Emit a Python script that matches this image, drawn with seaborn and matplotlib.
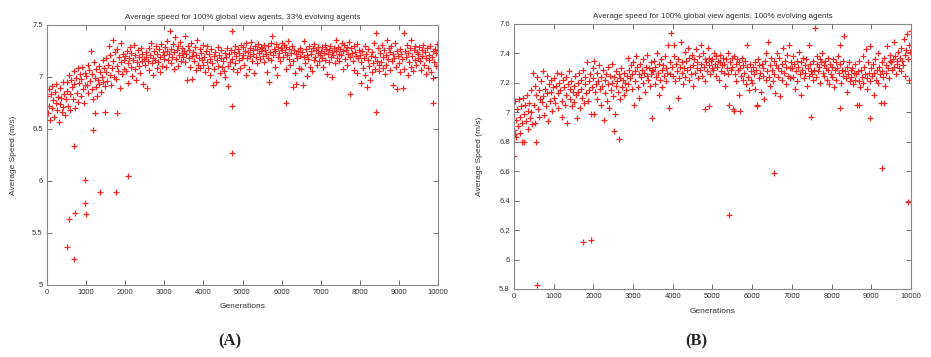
import numpy as np
import pandas as pd
import matplotlib
matplotlib.use("Agg")
import matplotlib.pyplot as plt
import seaborn as sns

# ---------------- data ----------------
generations = list(range(0, 10001, 20))

speed_a = [
    6.82,6.65,6.88,6.72,6.59,6.84,6.91,6.70,6.78,6.62,6.86,6.75,6.93,6.68,6.81,6.57,6.89,6.74,6.80,6.66,6.95,6.71,6.84,6.63,6.79,
    6.87,6.95,6.72,7.02,6.84,6.68,6.97,6.90,6.79,7.06,6.93,6.70,6.99,6.85,7.09,6.76,6.94,7.03,6.82,6.98,7.10,6.88,6.75,7.04,6.92,
    7.01,6.92,7.12,6.85,7.07,6.96,7.25,6.88,7.03,6.79,7.14,6.99,6.90,7.08,6.82,6.97,7.11,6.93,7.05,6.86,7.00,7.16,6.95,7.09,6.91,
    7.05,7.18,6.96,7.12,7.30,7.02,7.21,6.92,7.09,7.36,7.15,7.00,7.24,6.98,7.11,7.27,7.06,7.19,6.89,7.14,7.33,7.03,7.22,7.08,7.16,
    7.20,7.06,7.25,7.13,6.94,7.18,7.29,7.10,7.23,7.01,7.16,7.31,7.08,7.21,6.97,7.14,7.26,7.11,7.19,7.04,7.28,7.15,7.22,6.93,7.17,
    7.12,7.24,7.19,6.89,7.15,7.28,7.07,7.21,7.33,7.13,7.18,7.02,7.25,7.16,7.30,7.09,7.22,7.14,7.27,7.05,7.19,7.32,7.11,7.24,7.17,
    7.21,7.29,7.10,7.25,7.35,7.16,7.22,7.44,7.13,7.27,7.19,7.32,7.08,7.24,7.38,7.17,7.26,7.11,7.30,7.21,7.34,7.15,7.23,7.28,7.19,
    7.25,7.39,7.14,7.22,6.97,7.30,7.18,7.26,7.10,7.33,7.20,6.98,7.24,7.15,7.29,7.07,7.21,7.36,7.12,7.18,7.27,7.09,7.23,7.16,7.31,
    7.12,7.19,7.05,7.25,7.14,7.30,7.09,7.22,7.17,7.02,7.27,7.13,6.92,7.20,7.08,7.24,6.95,7.16,7.29,7.11,7.21,7.04,7.18,7.26,7.10,
    7.15,7.06,7.23,7.00,7.19,7.28,7.11,6.91,7.22,7.14,7.26,7.44,7.17,7.08,7.24,7.30,7.13,7.20,7.05,7.27,7.16,7.23,7.09,7.31,7.18,
    7.21,7.29,7.12,7.25,7.02,7.33,7.18,7.24,7.08,7.28,7.20,7.34,7.15,7.26,7.22,7.04,7.30,7.19,7.27,7.13,7.32,7.23,7.17,7.29,7.25,
    7.28,7.20,7.31,7.14,7.26,7.22,7.05,7.30,7.18,6.95,7.24,7.33,7.16,7.39,7.21,7.27,7.10,7.25,7.32,7.02,7.19,7.29,7.23,7.15,7.28,
    7.33,7.26,7.19,7.31,7.24,7.08,7.29,7.21,7.35,7.17,7.27,7.12,7.23,7.30,6.90,7.15,7.26,7.04,7.22,6.93,7.18,7.25,7.09,7.28,7.20,
    7.08,7.24,6.92,7.19,7.35,7.13,7.27,7.01,7.21,7.17,7.30,7.10,7.25,7.22,7.06,7.28,7.16,7.32,7.19,7.26,7.12,7.23,7.29,7.15,7.21,
    7.25,7.18,7.29,7.10,7.23,7.31,7.16,7.27,7.03,7.22,7.26,7.14,7.30,7.19,7.24,7.00,7.21,7.28,7.13,7.25,7.36,7.18,7.29,7.22,7.15,
    7.27,7.21,7.33,7.08,7.25,7.31,7.17,7.26,7.12,7.29,7.22,7.34,7.19,6.84,7.28,7.23,7.15,7.30,7.07,7.24,7.20,7.32,7.04,7.18,7.26,
    7.21,7.14,6.94,7.25,7.09,7.18,7.30,7.02,7.22,6.90,7.16,7.27,7.11,6.97,7.20,7.05,7.24,7.13,7.33,7.08,7.19,7.42,7.15,7.28,7.12,
    7.06,7.23,7.14,7.31,7.09,7.19,7.26,7.03,7.21,7.12,7.36,7.17,7.28,7.07,7.24,7.30,7.15,7.22,6.92,7.18,7.33,7.10,7.25,6.88,7.20,
    7.13,7.27,7.05,7.22,7.17,6.89,7.42,7.08,7.25,7.19,7.31,7.02,7.23,7.14,7.28,7.10,7.36,7.20,7.06,7.26,7.16,7.30,7.12,7.24,7.18,
    7.22,7.29,7.15,7.07,7.26,7.20,7.31,7.12,7.24,7.03,7.18,7.28,7.09,7.21,7.16,7.30,7.05,7.19,7.25,6.99,7.14,7.27,7.11,7.23,7.32,
    7.26,
]
outlier_gen_a = [520, 560, 680, 680, 720, 960, 960, 1000, 1180, 1220, 1350, 1480, 1770, 1800, 2080, 4720, 4720, 6120, 8420, 9870]
outlier_speed_a = [5.37, 5.63, 5.25, 6.34, 5.69, 6.01, 5.79, 5.68, 6.49, 6.65, 5.89, 6.66, 5.89, 6.65, 6.05, 6.27, 6.72, 6.75, 6.66, 6.75]

speed_b = [
    6.88,7.08,6.95,6.83,7.02,6.91,7.09,6.97,6.86,7.04,6.93,7.10,6.99,6.80,7.05,6.94,7.12,7.01,6.89,7.06,6.96,7.15,7.00,6.92,7.27,
    7.05,7.18,6.93,7.12,7.24,7.02,7.15,6.97,7.09,7.21,7.07,7.28,7.11,6.98,7.16,7.04,7.25,7.13,6.94,7.19,7.08,7.22,7.14,7.01,7.17,
    7.10,7.23,7.06,7.18,7.27,7.13,7.03,7.20,7.15,7.26,7.08,6.97,7.22,7.17,7.05,7.24,7.12,6.93,7.19,7.28,7.09,7.16,7.21,7.04,7.14,
    7.18,7.07,7.25,7.12,6.96,7.20,7.14,7.27,7.03,7.16,7.22,7.10,7.29,7.06,7.19,7.24,7.13,7.34,7.08,7.21,7.15,7.26,6.99,7.17,7.30,
    7.23,7.35,7.14,7.19,7.27,7.09,7.21,7.32,7.16,7.05,7.24,7.18,7.29,6.95,7.22,7.13,7.26,7.08,7.31,7.19,7.03,7.25,7.15,7.33,7.20,
    7.11,7.24,6.99,7.18,7.28,7.21,7.14,7.26,7.09,7.23,7.30,7.17,7.22,7.12,7.27,7.20,7.15,7.25,7.37,7.19,7.29,7.23,7.32,7.16,7.26,
    7.34,7.05,7.28,7.21,7.38,7.31,7.17,7.26,7.10,7.33,7.24,7.29,7.36,7.20,7.27,7.14,7.31,7.25,7.39,7.22,7.30,7.18,7.34,7.26,7.29,
    7.28,7.35,7.19,7.31,7.24,7.40,7.27,7.12,7.33,7.22,7.36,7.29,7.17,7.32,7.25,7.38,7.21,7.30,7.27,7.46,7.03,7.34,7.26,7.54,7.31,
    7.25,7.38,7.46,7.21,7.33,7.28,7.10,7.36,7.23,7.31,7.48,7.27,7.34,7.19,7.30,7.41,7.24,7.35,7.29,7.44,7.22,7.37,7.31,7.26,7.39,
    7.32,7.18,7.36,7.27,7.43,7.30,7.34,7.23,7.38,7.29,7.46,7.33,7.25,7.40,7.31,7.36,7.21,7.34,7.28,7.44,7.32,7.37,7.26,7.35,7.30,
    7.36,7.29,7.40,7.33,7.25,7.38,7.31,7.35,7.22,7.34,7.39,7.28,7.32,7.37,7.27,7.33,7.18,7.36,7.30,7.40,7.26,7.05,7.34,7.29,7.37,
    7.31,7.02,7.38,7.26,7.33,7.21,7.36,7.29,7.34,7.12,7.30,7.25,7.37,7.22,7.32,7.27,7.35,7.19,7.46,7.31,7.24,7.15,7.33,7.28,7.22,
    7.20,7.31,7.26,7.34,7.16,7.29,7.05,7.36,7.23,7.32,7.27,7.14,7.33,7.25,7.30,7.09,7.35,7.22,7.40,7.28,7.48,7.24,7.32,7.18,7.37,
    7.29,7.21,7.35,7.26,7.13,7.32,7.40,7.24,7.30,7.37,7.11,7.28,7.33,7.22,7.44,7.27,7.35,7.19,7.31,7.39,7.25,7.46,7.30,7.23,7.34,
    7.30,7.38,7.24,7.33,7.16,7.28,7.35,7.21,7.31,7.41,7.26,7.34,7.12,7.29,7.37,7.23,7.32,7.27,7.36,7.18,7.30,7.25,7.46,7.33,7.28,
    7.26,7.22,7.35,7.29,7.57,7.24,7.33,7.38,7.28,7.31,7.36,7.20,7.34,7.40,7.27,7.32,7.25,7.35,7.30,7.22,7.37,7.29,7.19,7.33,7.26,
    7.31,7.24,7.36,7.17,7.29,7.34,7.22,7.30,7.38,7.27,7.46,7.33,7.20,7.29,7.35,7.25,7.52,7.28,7.23,7.31,7.14,7.26,7.34,7.21,7.29,
    7.24,7.30,7.19,7.27,7.22,7.33,7.26,7.05,7.28,7.21,7.35,7.17,7.29,7.24,7.38,7.20,7.31,7.26,7.43,7.23,7.16,7.34,7.27,7.21,7.45,
    7.30,7.25,7.33,7.12,7.27,7.36,7.22,7.29,7.40,7.20,7.31,7.26,7.06,7.34,7.28,7.24,7.37,7.18,7.32,7.27,7.45,7.30,7.23,7.35,7.39,
    7.34,7.29,7.36,7.48,7.31,7.38,7.26,7.35,7.33,7.41,7.30,7.37,7.28,7.44,7.35,7.32,7.50,7.39,7.25,7.42,7.53,7.36,7.46,7.22,7.41,
    7.55,
]
outlier_gen_b = [0, 30, 200, 550, 580, 1730, 1950, 2020, 2520, 2650, 3480, 4800, 4900, 5420, 5550, 5700, 6120, 6550, 7480, 8200, 8680, 8980, 9280, 9320, 9920]
outlier_speed_b = [6.70, 6.85, 6.80, 6.80, 5.83, 6.12, 6.13, 6.99, 6.87, 6.82, 6.96, 7.02, 7.04, 6.30, 7.01, 7.01, 7.04, 6.59, 6.97, 7.03, 7.05, 6.96, 6.62, 7.06, 6.39]

title_a = "Average speed for 100% global view agents, 33% evolving agents"
title_b = "Average speed for 100% global view agents, 100% evolving agents"
xticks = list(range(0, 10001, 1000))
yticks_a = [5, 5.5, 6, 6.5, 7, 7.5]
yticks_b = [5.8, 6, 6.2, 6.4, 6.6, 6.8, 7, 7.2, 7.4, 7.6]

df_a = pd.DataFrame({"gen": generations + outlier_gen_a, "speed": speed_a + outlier_speed_a})
df_b = pd.DataFrame({"gen": generations + outlier_gen_b, "speed": speed_b + outlier_speed_b})

# ---------------- plot ----------------
sns.set_style("white")
plt.rcParams["font.family"] = ["Liberation Sans", "DejaVu Sans"]

fig = plt.figure(figsize=(9.31, 3.57), dpi=100)
ax_a = fig.add_axes([0.0505, 0.2017, 0.4200, 0.7283])
ax_b = fig.add_axes([0.5521, 0.1905, 0.4264, 0.7423])

RED = "#f02828"

def style(ax, df, title, yticks, ylim, ylabels, ylabpad, xlabpad):
    sns.scatterplot(data=df, x="gen", y="speed", ax=ax, marker="+",
                    color=RED, s=15, linewidth=0.9, legend=False)
    for coll in ax.collections:
        coll.set_edgecolor(RED)
        coll.set_facecolor(RED)
    ax.set_xlim(0, 10000)
    ax.set_ylim(*ylim)
    ax.set_xticks(xticks)
    ax.set_xticklabels([str(t) for t in xticks])
    ax.set_yticks(yticks)
    ax.set_yticklabels(ylabels)
    ax.tick_params(direction="in", length=3.5, width=0.6, color="#555555",
                   labelsize=5.5, labelcolor="#333333", top=True, right=True,
                   bottom=True, left=True, pad=3)
    for sp in ax.spines.values():
        sp.set_color("#888888")
        sp.set_linewidth(0.8)
    ax.set_title(title, fontsize=5.8, color="#333333", pad=4)
    ax.set_xlabel("Generations", fontsize=6, color="#333333", labelpad=xlabpad)
    ax.set_ylabel("Average Speed (m/s)", fontsize=6, color="#333333", labelpad=ylabpad)

style(ax_a, df_a, title_a, yticks_a, (5, 7.5), ["5", "5.5", "6", "6.5", "7", "7.5"], 11, 5)
style(ax_b, df_b, title_b, yticks_b, (5.8, 7.6),
      ["5.8", "6", "6.2", "6.4", "6.6", "6.8", "7", "7.2", "7.4", "7.6"], 12, 6)

fig.text(230 / 931, 1 - 341 / 357, "(A)", fontsize=12, fontweight="bold",
         family=["Liberation Serif", "DejaVu Serif"], ha="center", va="center")
fig.text(696 / 931, 1 - 341 / 357, "(B)", fontsize=12, fontweight="bold",
         family=["Liberation Serif", "DejaVu Serif"], ha="center", va="center")

fig.savefig("out.png", dpi=100, facecolor="white")
